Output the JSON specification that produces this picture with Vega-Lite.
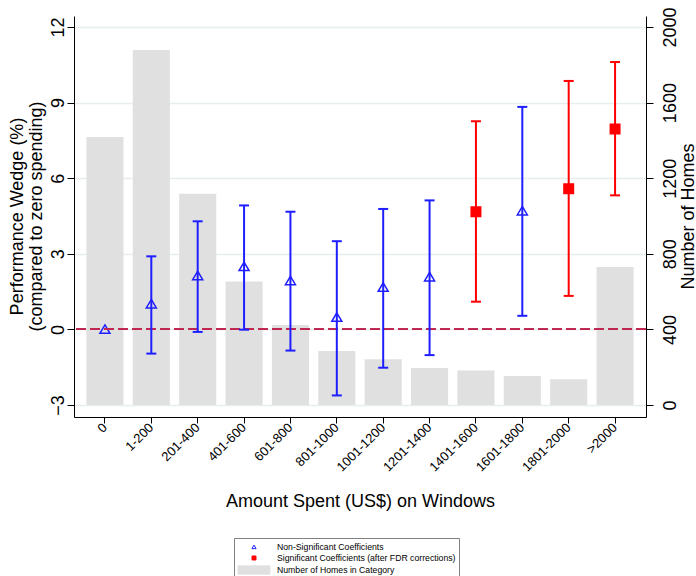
{
  "$schema": "https://vega.github.io/schema/vega-lite/v6.json",
  "width": 572,
  "height": 401,
  "autosize": {"type": "none"},
  "padding": {"left": 74, "top": 16, "right": 50, "bottom": 159},
  "background": "white",
  "config": {
    "view": {"stroke": null},
    "font": "Liberation Sans",
    "axis": {
      "domainColor": "black",
      "domainWidth": 1,
      "tickColor": "black",
      "tickWidth": 1,
      "labelColor": "black",
      "titleColor": "black",
      "titleFontWeight": "normal",
      "labelFont": "Liberation Sans",
      "titleFont": "Liberation Sans"
    }
  },
  "data": {
    "values": [
      {"cat": "0", "homes": 1418, "coef": 0, "lo": null, "hi": null, "sig": "Non-Significant Coefficients"},
      {"cat": "1-200", "homes": 1878, "coef": 1.01, "lo": -0.96, "hi": 2.9, "sig": "Non-Significant Coefficients"},
      {"cat": "201-400", "homes": 1118, "coef": 2.13, "lo": -0.1, "hi": 4.29, "sig": "Non-Significant Coefficients"},
      {"cat": "401-600", "homes": 654, "coef": 2.49, "lo": -0.01, "hi": 4.92, "sig": "Non-Significant Coefficients"},
      {"cat": "601-800", "homes": 423, "coef": 1.93, "lo": -0.84, "hi": 4.67, "sig": "Non-Significant Coefficients"},
      {"cat": "801-1000", "homes": 286, "coef": 0.48, "lo": -2.62, "hi": 3.5, "sig": "Non-Significant Coefficients"},
      {"cat": "1001-1200", "homes": 242, "coef": 1.67, "lo": -1.52, "hi": 4.78, "sig": "Non-Significant Coefficients"},
      {"cat": "1201-1400", "homes": 196, "coef": 2.08, "lo": -1.02, "hi": 5.12, "sig": "Non-Significant Coefficients"},
      {"cat": "1401-1600", "homes": 182, "coef": 4.67, "lo": 1.1, "hi": 8.26, "sig": "Significant Coefficients (after FDR corrections)"},
      {"cat": "1601-1800", "homes": 153, "coef": 4.7, "lo": 0.54, "hi": 8.83, "sig": "Non-Significant Coefficients"},
      {"cat": "1801-2000", "homes": 136, "coef": 5.58, "lo": 1.33, "hi": 9.86, "sig": "Significant Coefficients (after FDR corrections)"},
      {"cat": ">2000", "homes": 730, "coef": 7.95, "lo": 5.32, "hi": 10.61, "sig": "Significant Coefficients (after FDR corrections)"}
    ]
  },
  "layer": [
    {
      "mark": {"type": "bar", "color": "#E0E0E0"},
      "encoding": {
        "x": {
          "field": "cat",
          "type": "nominal",
          "sort": null,
          "scale": {"paddingInner": 0.2, "paddingOuter": 0.267},
          "axis": {
            "title": "Amount Spent (US$) on Windows",
            "titleFontSize": 18,
            "titleX": 286,
            "titleY": 89,
            "titleAlign": "center",
            "titleBaseline": "alphabetic",
            "labelAngle": 315,
            "labelAlign": "right",
            "labelBaseline": "middle",
            "labelFontSize": 13,
            "labelPadding": 2,
            "tickSize": 6,
            "grid": false
          }
        },
        "y": {
          "field": "homes",
          "type": "quantitative",
          "scale": {"domain": [-63.5, 2058.3], "nice": false, "zero": false},
          "axis": {
            "orient": "right",
            "values": [0, 400, 800, 1200, 1600, 2000],
            "format": "d",
            "title": "Number of Homes",
            "grid": false,
            "tickSize": 7,
            "labelAngle": 270,
            "labelAlign": "center",
            "labelBaseline": "top",
            "labelPadding": 8,
            "labelFontSize": 18,
            "titleFontSize": 18,
            "titleAngle": 270,
            "titleX": 47,
            "titleY": 200,
            "titleAlign": "center",
            "titleBaseline": "alphabetic"
          }
        },
        "y2": {"datum": 0}
      }
    },
    {
      "layer": [
        {
          "mark": {
            "type": "point",
            "filled": true,
            "size": 697,
            "strokeWidth": 1.5,
            "opacity": 1
          },
          "encoding": {
            "x": {"field": "cat", "type": "nominal", "sort": null},
            "y": {
              "field": "coef",
              "type": "quantitative",
              "scale": {"domain": [-3.476, 12.437], "nice": false, "zero": false},
              "axis": {
                "orient": "left",
                "values": [-3, 0, 3, 6, 9, 12],
                "title": ["Performance Wedge (%)", "(compared to zero spending)"],
                "grid": true,
                "gridColor": "#E6EEF0",
                "gridWidth": 1.5,
                "tickSize": 7,
                "labelAngle": 270,
                "labelAlign": "center",
                "labelBaseline": "alphabetic",
                "labelPadding": 4,
                "labelFontSize": 18,
                "titleFontSize": 18,
                "titleAngle": 270,
                "titleX": -52,
                "titleY": 200,
                "titleAlign": "center",
                "titleBaseline": "alphabetic",
                "titleLineHeight": 19
              }
            },
            "shape": {
              "field": "sig",
              "type": "nominal",
              "scale": {
                "domain": ["Non-Significant Coefficients", "Significant Coefficients (after FDR corrections)", "Number of Homes in Category"],
                "range": ["M0,-0.34L0.38,0.3H-0.38Z", "M-0.36,-0.36H0.36V0.36H-0.36Z", "M-2.9,-0.75H2.9V0.75H-2.9Z"]
              },
              "legend": {
                "orient": "none",
                "legendX": 160,
                "legendY": 522,
                "title": null,
                "direction": "vertical",
                "symbolSize": 121,
                "symbolStrokeWidth": 1,
                "symbolOffset": 11,
                "labelOffset": 17,
                "labelFontSize": 8.7,
                "labelFont": "Liberation Sans",
                "labelColor": "black",
                "labelLimit": 400,
                "rowPadding": 0,
                "padding": 3,
                "strokeColor": "#808080",
                "fillColor": "white"
              }
            },
            "fill": {
              "field": "sig",
              "type": "nominal",
              "scale": {
                "domain": ["Non-Significant Coefficients", "Significant Coefficients (after FDR corrections)", "Number of Homes in Category"],
                "range": ["transparent", "#FF0000", "#E0E0E0"]
              },
              "legend": {
                "orient": "none",
                "legendX": 160,
                "legendY": 522,
                "title": null,
                "direction": "vertical",
                "symbolSize": 121,
                "symbolStrokeWidth": 1,
                "symbolOffset": 11,
                "labelOffset": 17,
                "labelFontSize": 8.7,
                "labelFont": "Liberation Sans",
                "labelColor": "black",
                "labelLimit": 400,
                "rowPadding": 0,
                "padding": 3,
                "strokeColor": "#808080",
                "fillColor": "white"
              }
            },
            "stroke": {
              "field": "sig",
              "type": "nominal",
              "scale": {
                "domain": ["Non-Significant Coefficients", "Significant Coefficients (after FDR corrections)", "Number of Homes in Category"],
                "range": ["#1E1EFF", "#FF0000", "#E0E0E0"]
              },
              "legend": {
                "orient": "none",
                "legendX": 160,
                "legendY": 522,
                "title": null,
                "direction": "vertical",
                "symbolSize": 121,
                "symbolStrokeWidth": 1,
                "symbolOffset": 11,
                "labelOffset": 17,
                "labelFontSize": 8.7,
                "labelFont": "Liberation Sans",
                "labelColor": "black",
                "labelLimit": 400,
                "rowPadding": 0,
                "padding": 3,
                "strokeColor": "#808080",
                "fillColor": "white"
              }
            }
          }
        },
        {
          "mark": {"type": "rule", "color": "#C0254F", "strokeWidth": 1.3, "strokeDash": [10, 4]},
          "encoding": {
            "y": {"datum": 0, "type": "quantitative"}
          }
        },
        {
          "mark": {"type": "rule", "strokeWidth": 2},
          "encoding": {
            "x": {"field": "cat", "type": "nominal", "sort": null},
            "y": {"field": "lo", "type": "quantitative"},
            "y2": {"field": "hi"},
            "color": {
              "field": "sig",
              "type": "nominal",
              "scale": {"domain": ["Non-Significant Coefficients", "Significant Coefficients (after FDR corrections)"], "range": ["#1E1EFF", "#FF0000"]},
              "legend": null
            }
          }
        },
        {
          "mark": {"type": "tick", "size": 10, "thickness": 2, "opacity": 1},
          "encoding": {
            "x": {"field": "cat", "type": "nominal", "sort": null},
            "y": {"field": "lo", "type": "quantitative"},
            "color": {"field": "sig", "type": "nominal", "legend": null}
          }
        },
        {
          "mark": {"type": "tick", "size": 10, "thickness": 2, "opacity": 1},
          "encoding": {
            "x": {"field": "cat", "type": "nominal", "sort": null},
            "y": {"field": "hi", "type": "quantitative"},
            "color": {"field": "sig", "type": "nominal", "legend": null}
          }
        }
      ]
    }
  ],
  "resolve": {"scale": {"y": "independent"}}
}
